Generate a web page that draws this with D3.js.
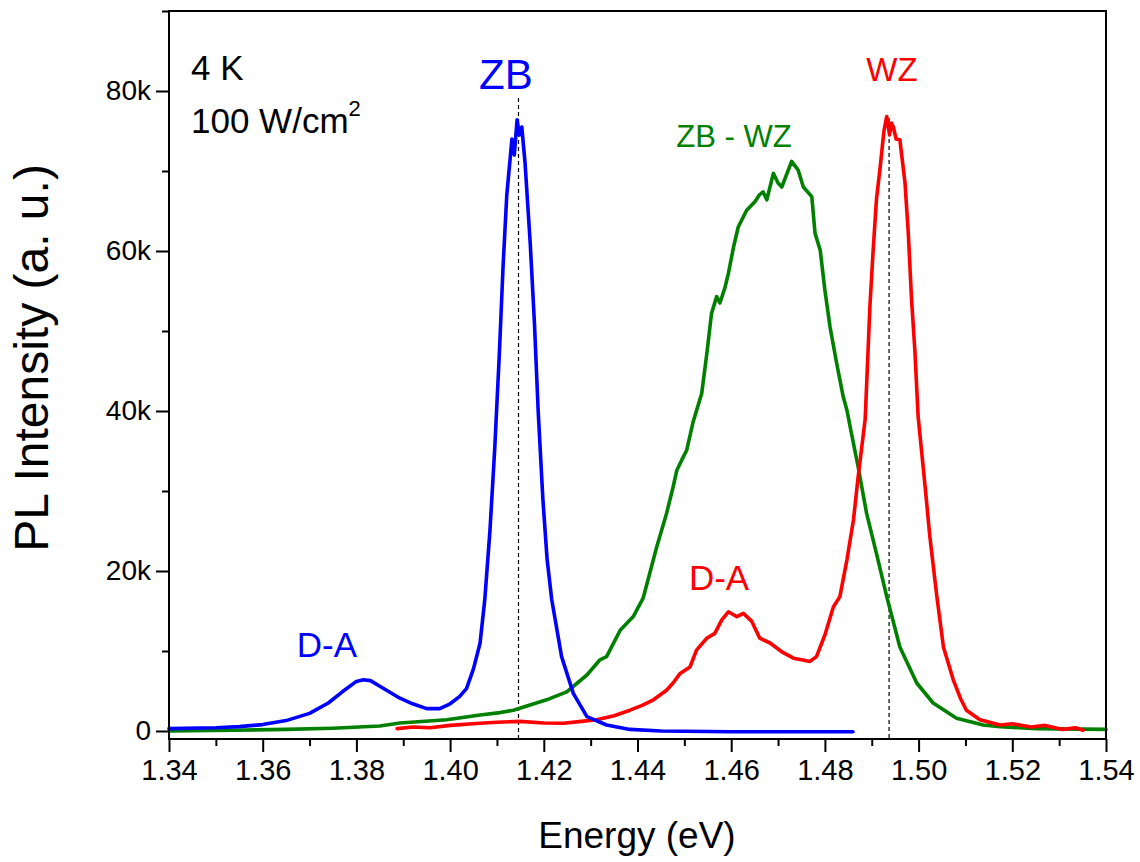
<!DOCTYPE html>
<html>
<head>
<meta charset="utf-8">
<script src="https://cdn.jsdelivr.net/npm/d3@7"></script>
<style>
  body { margin: 0; background: #fff; }
  svg text { font-family: "Liberation Sans", Arial, sans-serif; }
</style>
</head>
<body>
<div id="d3"></div>
<script>
// ZB spectrum (blue)
var zbData = [[1.340,300],[1.350,400],[1.355,550],[1.360,800],[1.365,1300],[1.370,2200],[1.374,3500],[1.377,4900],[1.380,6200],[1.3815,6400],[1.383,6300],[1.385,5600],[1.3893,4100],[1.392,3400],[1.395,2800],[1.3978,2800],[1.400,3400],[1.402,4300],[1.4035,5300],[1.405,7800],[1.4064,11000],[1.4074,16400],[1.4085,25000],[1.4095,35000],[1.4105,47000],[1.4113,58000],[1.4121,67000],[1.4132,74000],[1.4137,72000],[1.4143,76400],[1.4148,74500],[1.4153,75500],[1.416,71000],[1.4171,61000],[1.418,51000],[1.4188,40000],[1.4198,29000],[1.4207,21500],[1.4217,16400],[1.4238,9300],[1.4263,4700],[1.4292,1800],[1.4334,750],[1.4384,200],[1.445,0],[1.46,-100],[1.47,-100],[1.486,-100]];

// WZ spectrum (red)
var wzData = [[1.3887,300],[1.392,500],[1.3957,400],[1.400,700],[1.4064,960],[1.410,1100],[1.4149,1200],[1.420,1000],[1.4242,960],[1.428,1200],[1.4313,1400],[1.435,1900],[1.4384,2600],[1.441,3200],[1.4434,3900],[1.4462,5100],[1.4476,6000],[1.4491,7200],[1.4512,8000],[1.4526,10100],[1.4548,11600],[1.4565,12200],[1.4580,13900],[1.4594,14900],[1.4603,14600],[1.4612,14300],[1.4626,14700],[1.4644,13700],[1.4661,11600],[1.4683,11000],[1.4708,9900],[1.4733,9100],[1.4750,8900],[1.4768,8700],[1.4782,9300],[1.4800,12000],[1.4818,15500],[1.4832,16800],[1.4847,21400],[1.4861,26400],[1.4871,31800],[1.4886,39000],[1.4896,53000],[1.4903,60100],[1.4910,66400],[1.4918,70500],[1.4926,75000],[1.4932,76800],[1.4938,74500],[1.4942,76000],[1.4946,75500],[1.4952,74000],[1.4960,73900],[1.4971,68500],[1.4978,62200],[1.4985,53900],[1.4992,47600],[1.4999,39300],[1.5014,30500],[1.5024,24300],[1.5039,16800],[1.5053,10500],[1.5074,6400],[1.5090,4000],[1.5102,2600],[1.5131,1400],[1.5174,750],[1.520,900],[1.524,500],[1.527,700],[1.5308,200],[1.5335,400],[1.5351,100]];

// ZB - WZ spectrum (green)
var mixData = [[1.340,0],[1.3537,100],[1.365,200],[1.375,350],[1.385,625],[1.3893,1000],[1.3993,1400],[1.4064,2000],[1.4107,2300],[1.4135,2600],[1.4206,3900],[1.4249,4900],[1.4292,7000],[1.4320,8900],[1.4334,9300],[1.4363,12600],[1.4391,14300],[1.4412,16600],[1.4441,23000],[1.4462,27200],[1.4476,30500],[1.4484,32600],[1.4498,34300],[1.4505,35100],[1.4519,38700],[1.4537,42200],[1.4548,47200],[1.4558,52200],[1.4569,54300],[1.4576,53500],[1.4587,55500],[1.4594,57200],[1.4605,60500],[1.4615,63000],[1.4633,65100],[1.4651,66200],[1.4660,67000],[1.4668,67400],[1.4676,66400],[1.4690,69700],[1.4700,68500],[1.4708,68000],[1.4729,71200],[1.4743,70100],[1.4754,68000],[1.4772,66800],[1.4779,62200],[1.4790,60100],[1.4800,55100],[1.4811,50500],[1.4825,46000],[1.4839,41800],[1.4847,40100],[1.4854,38000],[1.4871,33000],[1.4889,27200],[1.4910,22200],[1.4932,16800],[1.4960,10500],[1.4996,6000],[1.5031,3500],[1.5081,1600],[1.5138,750],[1.5174,540],[1.525,300],[1.54,200]];

var xTicks = [1.34,1.36,1.38,1.40,1.42,1.44,1.46,1.48,1.50,1.52,1.54];
var yTicks = [0,20000,40000,60000,80000];
var peakLines = [[1.4146,98],[1.4937,118]];   // energy, top in px of dashed marker
var labels = [
    {t: "ZB", e: 1.4119, v: 80200, c: "#0000ff", s: 42},
    {t: "WZ", e: 1.4943, v: 81300, c: "#ff0000", s: 33},
    {t: "ZB - WZ", e: 1.4606, v: 73000, c: "#008000", s: 31},
    {t: "D-A", e: 1.3737, v: 9200, c: "#0000ff", s: 35},
    {t: "D-A", e: 1.4574, v: 17600, c: "#ff0000", s: 35}
];

var svg = d3.select("#d3").append("svg")
        .attr("width", 1140)
        .attr("height", 862);

var x = d3.scaleLinear().domain([1.34, 1.54]).range([169, 1106]);
var y = d3.scaleLinear().domain([-1000, 90000]).range([739, 11]);

// minor ticks
svg.append("g")
        .attr("transform", "translate(0,739)")
        .call(d3.axisBottom(x).tickValues(d3.range(1.35, 1.54, 0.02)).tickSize(7).tickFormat(""))
        .call(function(g) { g.select(".domain").remove(); })
        .selectAll("line").attr("stroke-width", 2);

svg.append("g")
        .attr("transform", "translate(169,0)")
        .call(d3.axisLeft(y).tickValues([10000,30000,50000,70000,90000]).tickSize(7).tickFormat(""))
        .call(function(g) { g.select(".domain").remove(); })
        .selectAll("line").attr("stroke-width", 2);

// major ticks
var xa = svg.append("g")
        .attr("transform", "translate(0,739)")
        .call(d3.axisBottom(x).tickValues(xTicks).tickSize(13).tickPadding(7).tickFormat(d3.format(".2f")));
xa.select(".domain").remove();
xa.selectAll("line").attr("stroke-width", 2);
xa.selectAll("text").attr("font-size", "29px").attr("fill", "#000");

var ya = svg.append("g")
        .attr("transform", "translate(169,0)")
        .call(d3.axisLeft(y).tickValues(yTicks).tickSize(13).tickPadding(5)
            .tickFormat(function(d) { return d === 0 ? "0" : (d / 1000) + "k"; }));
ya.select(".domain").remove();
ya.selectAll("line").attr("stroke-width", 2);
ya.selectAll("text").attr("font-size", "28px").attr("fill", "#000");

// dashed peak markers
svg.selectAll(".peak")
        .data(peakLines).enter()
        .append("line")
        .attr("class", "peak")
        .attr("x1", function(d) { return x(d[0]); })
        .attr("x2", function(d) { return x(d[0]); })
        .attr("y1", function(d) { return d[1]; })
        .attr("y2", 739)
        .attr("stroke", "#000")
        .attr("stroke-width", 1.2)
        .attr("stroke-dasharray", "4,3");

var line = d3.line()
        .x(function(d) { return x(d[0]); })
        .y(function(d) { return y(d[1]); });

var series = [
    {d: mixData, c: "#008000"},
    {d: wzData, c: "#ff0000"},
    {d: zbData, c: "#0000ff"}
];

svg.selectAll(".spec")
        .data(series).enter()
        .append("path")
        .attr("class", "spec")
        .attr("d", function(d) { return line(d.d); })
        .attr("fill", "none")
        .attr("stroke", function(d) { return d.c; })
        .attr("stroke-width", 3.6)
        .attr("stroke-linejoin", "round")
        .attr("stroke-linecap", "round");

// frame
svg.append("rect")
        .attr("x", 169)
        .attr("y", 11)
        .attr("width", 1106 - 169)
        .attr("height", 739 - 11)
        .attr("fill", "none")
        .attr("stroke", "#000")
        .attr("stroke-width", 2);

// peak labels
svg.selectAll(".lab")
        .data(labels).enter()
        .append("text")
        .attr("class", "lab")
        .attr("x", function(d) { return x(d.e); })
        .attr("y", function(d) { return y(d.v); })
        .attr("text-anchor", "middle")
        .attr("font-size", function(d) { return d.s + "px"; })
        .attr("fill", function(d) { return d.c; })
        .text(function(d) { return d.t; });

svg.append("text")
        .attr("x", 191)
        .attr("y", 80)
        .attr("font-size", "35px")
        .text("4 K");

var p = svg.append("text")
        .attr("x", 191)
        .attr("y", 133)
        .attr("font-size", "35px")
        .text("100 W/cm");
p.append("tspan")
        .attr("dy", -17)
        .attr("font-size", "22px")
        .text("2");

// axis titles
svg.append("text")
        .attr("x", 637)
        .attr("y", 848)
        .attr("text-anchor", "middle")
        .attr("font-size", "37px")
        .text("Energy (eV)");

svg.append("text")
        .attr("transform", "translate(48,358) rotate(-90)")
        .attr("text-anchor", "middle")
        .attr("font-size", "48px")
        .text("PL Intensity (a. u.)");
</script>
</body>
</html>
